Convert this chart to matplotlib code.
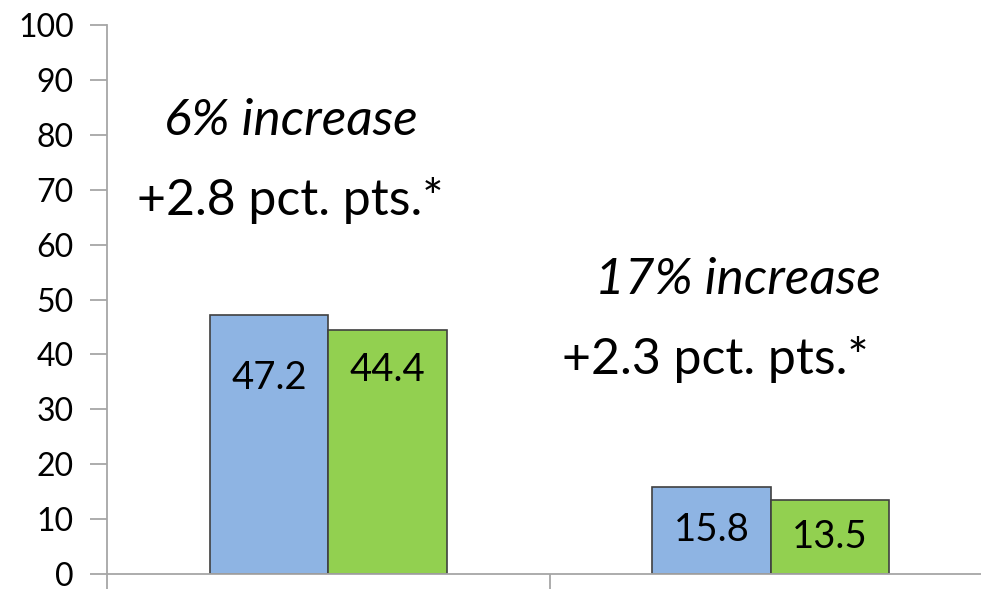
import numpy as np
import matplotlib
matplotlib.use("Agg")
import matplotlib.pyplot as plt

plt.rcParams['font.family'] = ['Lato', 'DejaVu Sans']

# data
groups = ["Group A", "Group B"]
series_blue = [47.2, 15.8]
series_green = [44.4, 13.5]
label_y_blue = [35.7, 8.0]
label_y_green = [37.2, 6.7]
pct_text = ["6% increase", "17% increase"]
pts_text = ["+2.8 pct. pts.*", "+2.3 pct. pts.*"]
yticks = list(range(0, 101, 10))

W, H = 981, 589
fig = plt.figure(figsize=(W / 100, H / 100), dpi=100)
ax = fig.add_axes([107 / W, 15 / H, (992 - 107) / W, (574 - 25) / H])

x = np.arange(len(groups))
bw = 0.268
edge = "#404040"
ax.bar(x - bw / 2, series_blue, bw, color="#8EB4E3", edgecolor=edge, linewidth=1.2, zorder=2)
ax.bar(x + bw / 2, series_green, bw, color="#92D050", edgecolor=edge, linewidth=1.2, zorder=2)

for i in range(len(groups)):
    ax.text(x[i] - bw / 2, label_y_blue[i], f"{series_blue[i]:.1f}", ha="center", va="center", fontsize=27.5)
    ax.text(x[i] + bw / 2, label_y_green[i], f"{series_green[i]:.1f}", ha="center", va="center", fontsize=27.5)

# annotations
ax.text(-0.085, 82.5, pct_text[0], ha="center", va="center", fontsize=37, style="italic")
ax.text(-0.085, 68.0, pts_text[0], ha="center", va="center", fontsize=36)
ax.text(0.925, 53.5, pct_text[1], ha="center", va="center", fontsize=37, style="italic")
ax.text(0.875, 39.0, pts_text[1], ha="center", va="center", fontsize=36)

ax.set_xlim(-0.5, 1.5)
ax.set_ylim(0, 100)
ax.set_yticks(yticks)
ax.set_xticks([-0.5, 0.5, 1.5])
ax.set_xticklabels([])

axcol = "#A6A6A6"
for s in ["top", "right"]:
    ax.spines[s].set_visible(False)
for s in ["left", "bottom"]:
    ax.spines[s].set_color(axcol)
    ax.spines[s].set_linewidth(1.3)
ax.tick_params(axis="y", direction="out", length=12, width=1.3, color=axcol, labelsize=23, pad=12)
ax.tick_params(axis="x", direction="out", length=12, width=1.3, color=axcol)

fig.savefig("out.png", dpi=100)
